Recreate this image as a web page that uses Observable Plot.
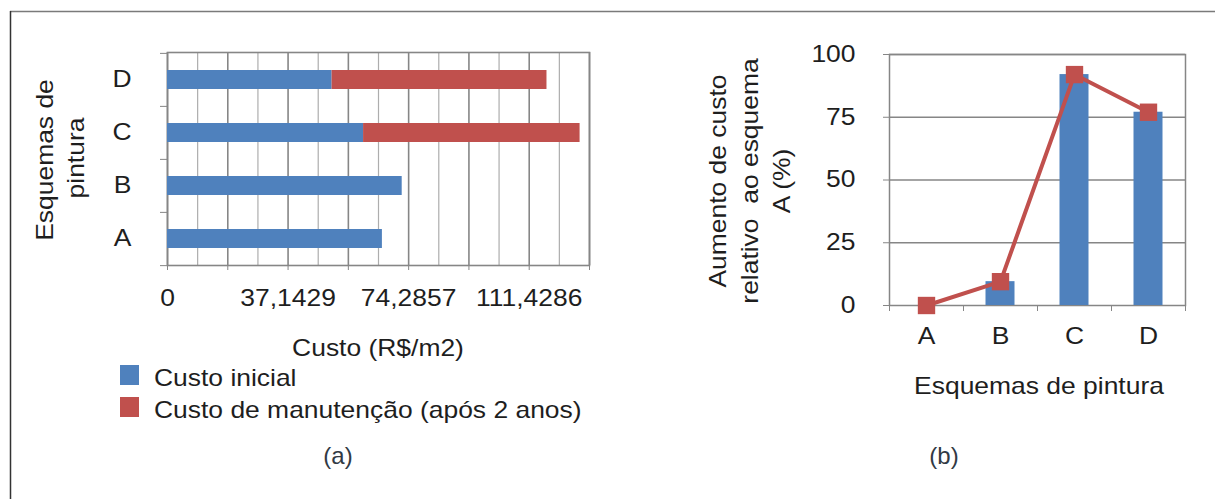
<!DOCTYPE html>
<html>
<head>
<meta charset="utf-8">
<script src="https://cdn.jsdelivr.net/npm/d3@7"></script>
<script src="https://cdn.jsdelivr.net/npm/@observablehq/plot@0.6"></script>
<style>
  html, body { margin: 0; padding: 0; background: #fff; }
  #fig { position: relative; width: 1215px; height: 499px; overflow: hidden;
         font-family: "Liberation Sans", Arial, sans-serif; }
  #fig > svg { position: absolute; }
</style>
</head>
<body>
<div id="fig"></div>
<script>
// Paint schemes and their costs (R$/m2)
const esquemas = ["A", "B", "C", "D"];
const custoInicial = [66.2, 72.3, 60.4, 50.7];
const custoManutencao = [0, 0, 66.7, 66.2];
const series = ["Custo inicial", "Custo de manutenção (após 2 anos)"];
const cores = ["#4f81bd", "#c0504d"];

// Cost increase relative to scheme A (%)
const aumento = [0, 9.5, 92, 77];

// Axis ticks
const custoMax = 130;
const custoMajor = [0, 18.5714, 37.1429, 55.7143, 74.2857, 92.8571, 111.4286, 130];
const custoMinor = [9.2857, 27.8571, 46.4286, 65, 83.5714, 102.1429, 120.7143];
const custoLabels = [0, 37.1429, 74.2857, 111.4286];
const aumentoTicks = [0, 25, 50, 75, 100];

// Shared styling
const FONT = 23;
const STRETCH = 1.15;           // the lettering is set wide
const ink = "#1e1e1e";
const gridDark = "#868686";
const gridLight = "#adadad";
const family = '"Liberation Sans", Arial, sans-serif';

const fig = document.getElementById("fig");

// widen every text element around its own anchor
function widen(svg) {
  svg.querySelectorAll("text").forEach(t => {
    const tr = t.getAttribute("transform");
    t.setAttribute("transform", (tr ? tr + " " : "") + `scale(${STRETCH},1)`);
  });
  return svg;
}

// ---- (a) stacked horizontal bars ----
const A = {left: 0, top: 0, width: 620, height: 320, mt: 52, mr: 31, mb: 55, ml: 167};
const innerWA = A.width - A.ml - A.mr;
const innerHA = A.height - A.mt - A.mb;
const bandA = innerHA / esquemas.length;
const tickLenA = 7 * custoMax / innerWA;

const linhas = esquemas.flatMap((e, i) => [
  {esquema: e, tipo: series[0], valor: custoInicial[i]},
  {esquema: e, tipo: series[1], valor: custoManutencao[i]}
]);

const chartA = Plot.plot({
  width: A.width, height: A.height,
  marginTop: A.mt, marginRight: A.mr, marginBottom: A.mb, marginLeft: A.ml,
  style: {fontSize: FONT + "px", fontFamily: family, color: ink, background: "transparent", overflow: "visible"},
  x: {domain: [0, custoMax]},
  y: {domain: esquemas.slice().reverse(), padding: 0},
  color: {domain: series, range: cores},
  marks: [
    Plot.ruleX(custoMinor, {stroke: gridLight, strokeWidth: 1.2}),
    Plot.ruleX(custoMajor, {stroke: gridDark, strokeWidth: 1.6}),
    Plot.frame({stroke: gridDark, strokeWidth: 1.6}),
    Plot.barX(linhas, {x: "valor", y: "esquema", fill: "tipo", insetTop: 17, insetBottom: 17}),
    // small ticks on the category boundaries
    Plot.ruleY(esquemas, {y: d => d, x1: -tickLenA, x2: 0, dy: -bandA / 2, stroke: gridDark}),
    Plot.ruleY([esquemas[0]], {y: d => d, x1: -tickLenA, x2: 0, dy: bandA / 2, stroke: gridDark}),
    Plot.axisX(custoMajor, {tickSize: 5, tickFormat: () => "", stroke: gridDark, label: null}),
    Plot.axisX(custoLabels, {tickSize: 0, tickPadding: 24, tickFormat: d => String(d).replace(".", ","), label: null}),
    Plot.axisY({tickSize: 0, tickPadding: 36, label: null})
  ]
});
chartA.style.left = A.left + "px";
chartA.style.top = A.top + "px";
fig.appendChild(widen(chartA));

// ---- (b) increase relative to scheme A ----
const B = {left: 690, top: 0, width: 525, height: 360, mt: 54, mr: 30, mb: 55, ml: 199};
const innerWB = B.width - B.ml - B.mr;
const innerHB = B.height - B.mt - B.mb;
const bandB = innerWB / esquemas.length;
const tickLenB = 6 * 100 / innerHB;

const chartB = Plot.plot({
  width: B.width, height: B.height,
  marginTop: B.mt, marginRight: B.mr, marginBottom: B.mb, marginLeft: B.ml,
  style: {fontSize: FONT + "px", fontFamily: family, color: ink, background: "transparent", overflow: "visible"},
  x: {domain: esquemas, padding: 0},
  y: {domain: [0, 100]},
  marks: [
    Plot.ruleY(aumentoTicks.slice(1), {stroke: gridDark, strokeWidth: 1.5}),
    Plot.frame({stroke: gridDark, strokeWidth: 1.5}),
    Plot.barY(esquemas, {x: d => d, y: (d, i) => aumento[i], fill: cores[0], insetLeft: 22.5, insetRight: 22.5}),
    Plot.line(esquemas, {x: d => d, y: (d, i) => aumento[i], stroke: cores[1], strokeWidth: 4}),
    Plot.dot(esquemas, {x: d => d, y: (d, i) => aumento[i], symbol: "square", r: 9.8, fill: cores[1]}),
    Plot.ruleX(esquemas, {x: d => d, y1: -tickLenB, y2: 0, dx: -bandB / 2, stroke: gridDark}),
    Plot.ruleX([esquemas[esquemas.length - 1]], {x: d => d, y1: -tickLenB, y2: 0, dx: bandB / 2, stroke: gridDark}),
    Plot.axisY(aumentoTicks, {tickSize: 6, tickPadding: 28, stroke: gridDark, label: null}),
    Plot.axisX({tickSize: 0, tickPadding: 22, label: null})
  ]
});
chartB.style.left = B.left + "px";
chartB.style.top = B.top + "px";
fig.appendChild(widen(chartB));

// ---- titles, legend, captions and border ----
const over = d3.select(fig).append("svg")
  .attr("width", 1215).attr("height", 499)
  .style("left", "0px").style("top", "0px")
  .attr("font-family", family);

function label(text, x, y, {anchor = "middle", rotate = 0, size = FONT, fill = ink, stretch = STRETCH} = {}) {
  over.append("text")
    .attr("transform", `translate(${x},${y})${rotate ? ` rotate(${rotate})` : ""} scale(${stretch},1)`)
    .attr("text-anchor", anchor)
    .attr("font-size", size)
    .attr("fill", fill)
    .style("white-space", "pre")
    .text(text);
}

// border
over.append("line").attr("x1", 10).attr("x2", 1215).attr("y1", 11.5).attr("y2", 11.5)
  .attr("stroke", "#7a7a7a").attr("stroke-width", 1.5);
over.append("line").attr("x1", 10.5).attr("x2", 10.5).attr("y1", 11).attr("y2", 499)
  .attr("stroke", "#333").attr("stroke-width", 1.5);

// (a)
label("Custo (R$/m2)", 378, 356);
label("Esquemas de", 53, 160, {rotate: -90});
label("pintura", 84, 158, {rotate: -90});
series.forEach((s, i) => {
  over.append("rect").attr("x", 120).attr("y", 365 + i * 32).attr("width", 19).attr("height", 20).attr("fill", cores[i]);
  label(s, 154, 385.5 + i * 32, {anchor: "start"});
});
label("(a)", 338, 464, {size: 24, fill: "#323a44", stretch: 1});

// (b)
label("Aumento de custo", 726, 181, {rotate: -90});
label("relativo  ao esquema", 758, 181, {rotate: -90});
label("A (%)", 790, 181, {rotate: -90});
label("Esquemas de pintura", 1039, 394);
label("(b)", 944, 464, {size: 24, fill: "#323a44", stretch: 1});
</script>
</body>
</html>
